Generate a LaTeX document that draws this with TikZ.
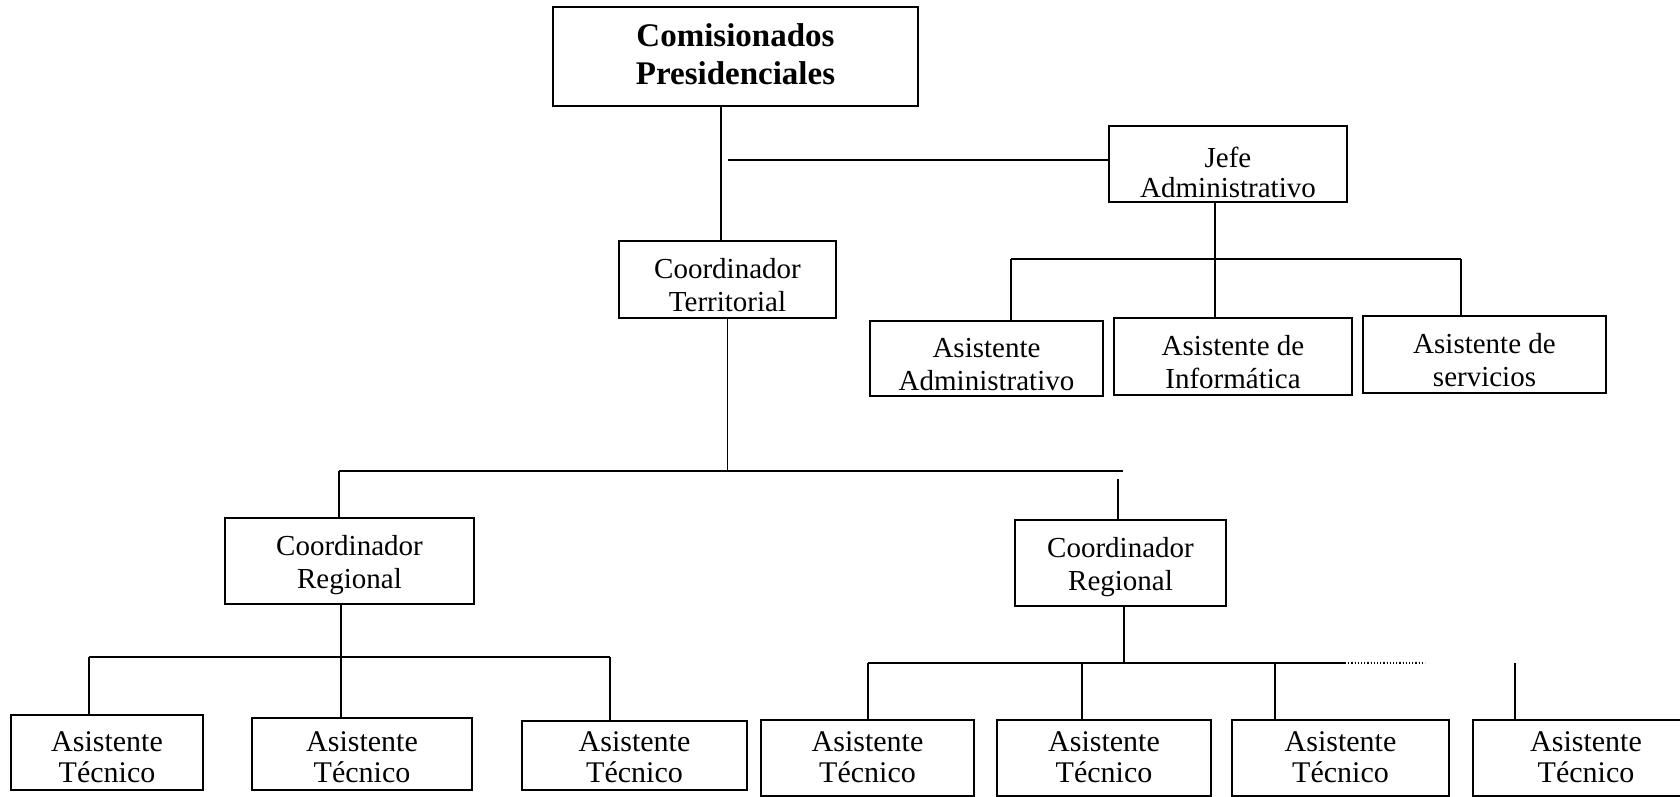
\documentclass[tikz,border=0pt]{standalone}
\usepackage{fontspec}
\setmainfont{Liberation Serif}
\begin{document}
\begin{tikzpicture}[x=0.5pt,y=-0.5pt,
  box/.style={draw, line width=0.9pt, inner sep=0pt},
  lbl/.style={align=center, inner sep=0pt, font=\fontsize{14.5}{16.5}\selectfont},
  toplbl/.style={lbl, font=\bfseries\fontsize{16.5}{18.8}\selectfont},
  techlbl/.style={lbl, font=\fontsize{15}{15.5}\selectfont},
  conn/.style={line width=0.9pt}]
\useasboundingbox (0,0) rectangle (1680,797);
\clip (0,0) rectangle (1680,797);
\fill[white] (0,0) rectangle (1680,797);

% boxes
\node[box, minimum width=182.5pt, minimum height=49.5pt,
  label={[toplbl, yshift=1pt]center:Comisionados\\Presidenciales}] (com) at (735.5,56.5) {};
\node[box, minimum width=119pt, minimum height=38pt,
  label={[lbl, font=\fontsize{14.5}{14.8}\selectfont, yshift=-4.3pt]center:Jefe\\Administrativo}] (jefe) at (1228,164) {};
\node[box, minimum width=108.5pt, minimum height=38.5pt,
  label={[lbl, yshift=-2.9pt]center:Coordinador\\Territorial}] (ct) at (727.5,279.5) {};
\node[box, minimum width=116.5pt, minimum height=37.5pt,
  label={[lbl, yshift=-2.9pt]center:Asistente\\Administrativo}] (aadm) at (986.5,358.5) {};
\node[box, minimum width=119pt, minimum height=38.5pt,
  label={[lbl, yshift=-2.7pt]center:Asistente de\\Informática}] (ainf) at (1233,356.5) {};
\node[box, minimum width=121.5pt, minimum height=38.5pt,
  label={[lbl, yshift=-2.9pt]center:Asistente de\\servicios}] (aser) at (1484.5,354.5) {};
\node[box, minimum width=124.5pt, minimum height=43pt,
  label={[lbl, yshift=-2.1pt]center:Coordinador\\Regional}] (crl) at (349.5,561) {};
\node[box, minimum width=105.5pt, minimum height=43pt,
  label={[lbl, yshift=-2.1pt]center:Coordinador\\Regional}] (crr) at (1120.5,563) {};

\node[box, minimum width=96pt, minimum height=37.5pt,
  label={[techlbl, yshift=-2.4pt]center:Asistente\\Técnico}] (t1) at (107,752.5) {};
\node[box, minimum width=110pt, minimum height=36pt,
  label={[techlbl, yshift=-1.65pt]center:Asistente\\Técnico}] (t2) at (362,754) {};
\node[box, minimum width=112.5pt, minimum height=34.5pt,
  label={[techlbl, yshift=-0.9pt]center:Asistente\\Técnico}] (t3) at (634.5,755.5) {};
\node[box, minimum width=106.5pt, minimum height=38pt,
  label={[techlbl, yshift=0.35pt]center:Asistente\\Técnico}] (t4) at (867.5,758) {};
\node[box, minimum width=107pt, minimum height=38pt,
  label={[techlbl, yshift=0.35pt]center:Asistente\\Técnico}] (t5) at (1104,758) {};
\node[box, minimum width=108.5pt, minimum height=38pt,
  label={[techlbl, yshift=0.35pt]center:Asistente\\Técnico}] (t6) at (1340.5,758) {};
\node[box, minimum width=113pt, minimum height=38pt,
  label={[techlbl, yshift=0.35pt]center:Asistente\\Técnico}] (t7) at (1586,758) {};

% junction coordinates
\coordinate (jstart) at (728,160);
\coordinate (jb1) at (1011,259);
\coordinate (jb3) at (1461,259);
\coordinate (b2l) at (339,471);
\coordinate (b2r) at (1123,471);
\coordinate (crrtop) at (1118,479);
\coordinate (b3l) at (89,657);
\coordinate (b3r) at (610,657);
\coordinate (b4l) at (868,663);
\coordinate (b4a) at (1082,663);
\coordinate (b4b) at (1275,663);
\coordinate (b4m) at (1345,663);
\coordinate (b4r) at (1425,663);
\coordinate (b4c) at (1515,663);

% connectors
\draw[conn] ([xshift=-7.25pt]com.south) -- ([xshift=-7.25pt]com.south |- ct.north);
\draw[conn] (jstart) -- (jstart -| jefe.west);
\draw[conn] ([xshift=-6.5pt]jefe.south) -- ([xshift=-6.5pt]jefe.south |- ainf.north);
\draw[conn] (jb1) -- (jb3);
\draw[conn] (jb1) -- (jb1 |- aadm.north);
\draw[conn] (jb3) -- (jb3 |- aser.north);

\draw[conn] (ct.south) -- (ct.south |- b2l);
\draw[conn] (b2l) -- (b2r);
\draw[conn] (b2l) -- (b2l |- crl.north);
\draw[conn] (crrtop) -- (crrtop |- crr.north);

\draw[conn] ([xshift=-4.25pt]crl.south) -- ([xshift=-4.25pt]crl.south |- t2.north);
\draw[conn] (b3l) -- (b3r);
\draw[conn] (b3l) -- (b3l |- t1.north);
\draw[conn] (b3r) -- (b3r |- t3.north);

\draw[conn] ([xshift=1.75pt]crr.south) -- ([xshift=1.75pt]crr.south |- b4l);
\draw[conn] (b4l) -- (b4m);
\draw[line width=0.6pt, densely dotted] (b4m) -- (b4r);
\draw[conn] (b4l) -- (b4l |- t4.north);
\draw[conn] (b4a) -- (b4a |- t5.north);
\draw[conn] (b4b) -- (b4b |- t6.north);
\draw[conn] (b4c) -- (b4c |- t7.north);
\end{tikzpicture}
\end{document}
